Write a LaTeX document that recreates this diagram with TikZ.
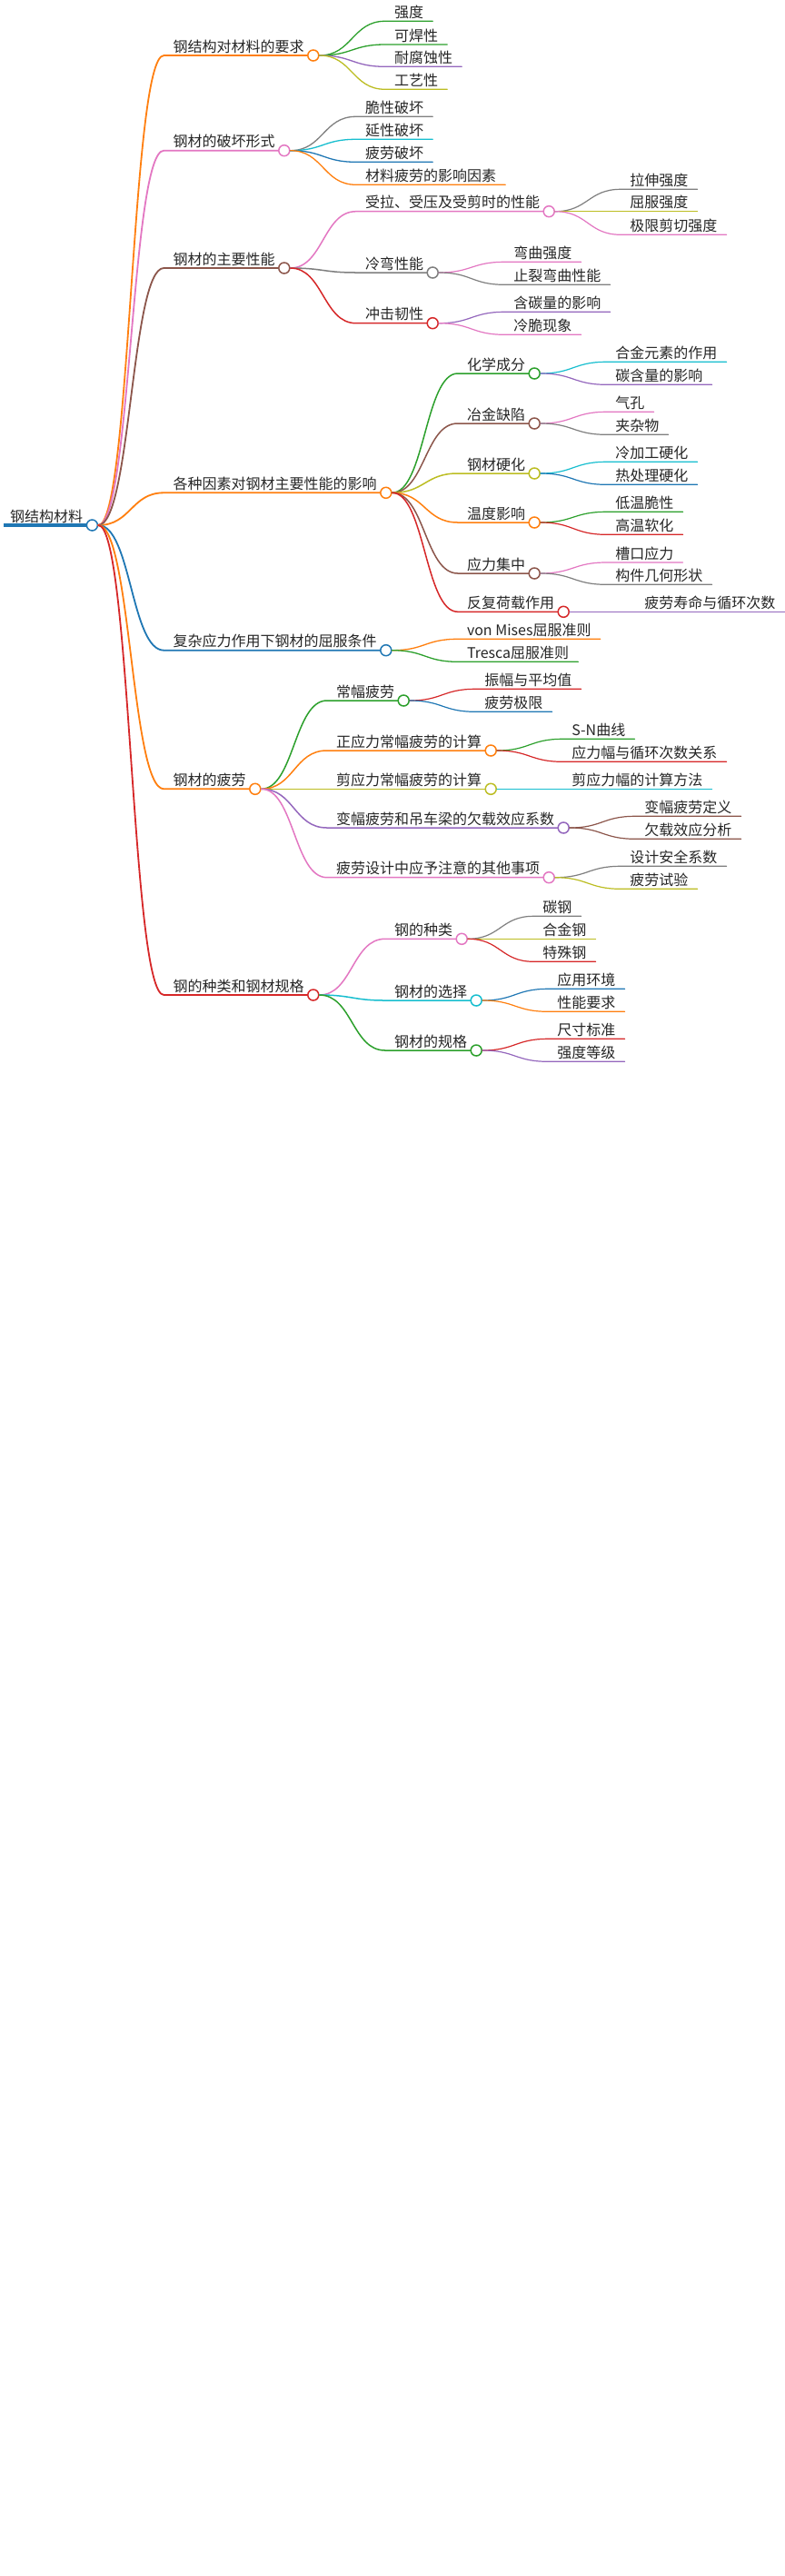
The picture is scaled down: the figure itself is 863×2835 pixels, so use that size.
\documentclass[tikz,border=0pt]{standalone}
\usepackage{fontspec}
\setmainfont{Noto Sans CJK SC}
\usetikzlibrary{calc}
\definecolor{cblue}{HTML}{1F77B4}
\definecolor{corange}{HTML}{FF7F0E}
\definecolor{cgreen}{HTML}{2CA02C}
\definecolor{cred}{HTML}{D62728}
\definecolor{cpurple}{HTML}{9467BD}
\definecolor{cbrown}{HTML}{8C564B}
\definecolor{cpink}{HTML}{E377C2}
\definecolor{cgray}{HTML}{7F7F7F}
\definecolor{colive}{HTML}{BCBD22}
\definecolor{ccyan}{HTML}{17BECF}
\tikzset{
  lbl/.style={font=\fontsize{16}{16}\selectfont, text=black!85, inner sep=0pt, anchor=base west},
  circ/.style={circle, fill=white, minimum size=12pt, inner sep=0pt, line width=1.5pt},
  conn/.style={line cap=round}
}
% #1 name, #2 parent, #3 y, #4 colour, #5 width, #6 text
\newcommand\mmn[6]{%
  \path (c#2.center) ++(89,0) coordinate (x#1);
  \coordinate (y#1) at (0,#3);
  \coordinate (s#1) at ($(x#1 |- y#1)+(-10,0)$);
  \node[lbl] (#1) at ($(x#1 |- y#1)+(0,-4)$) {#6};
  \coordinate (e#1) at ($(#1.east |- y#1)+(10,0)$);
  \draw[conn, draw=#4, line width=#5] (c#2.east) .. controls +(36,0) and +(-36,0) .. (s#1) -- (e#1);
}
\newcommand\mmi[6]{\mmn{#1}{#2}{#3}{#4}{#5}{#6}\node[circ, draw=#4] (c#1) at (e#1) {};}
\begin{document}
\begin{tikzpicture}[x=1pt,y=-1pt]
\useasboundingbox[fill=white] (0,0) rectangle (863,2835);
% root
\node[lbl] (R) at (11,574) {钢结构材料};
\coordinate (sR) at (4,578);
\coordinate (eR) at ($(R.east |- sR)+(10,0)$);
\draw[cblue, line width=3.5pt] (sR) -- (eR);
\node[circ, draw=cblue] (cR) at (eR) {};
% A
\mmi{A}{R}{61}{corange}{1.8pt}{钢结构对材料的要求}
\mmn{Aa}{A}{23.3}{cgreen}{1.3pt}{强度}
\mmn{Ab}{A}{49}{cgreen}{1.3pt}{可焊性}
\mmn{Ac}{A}{73.3}{cpurple}{1.3pt}{耐腐蚀性}
\mmn{Ad}{A}{98.3}{colive}{1.3pt}{工艺性}
% B
\mmi{B}{R}{165.7}{cpink}{1.8pt}{钢材的破坏形式}
\mmn{Ba}{B}{128.3}{cgray}{1.3pt}{脆性破坏}
\mmn{Bb}{B}{153.3}{ccyan}{1.3pt}{延性破坏}
\mmn{Bc}{B}{178.3}{cblue}{1.3pt}{疲劳破坏}
\mmn{Bd}{B}{203.3}{corange}{1.3pt}{材料疲劳的影响因素}
% C
\mmi{C}{R}{295}{cbrown}{1.8pt}{钢材的主要性能}
\mmi{Ca}{C}{232.7}{cpink}{1.5pt}{受拉、受压及受剪时的性能}
\mmn{Caa}{Ca}{208.3}{cgray}{1.2pt}{拉伸强度}
\mmn{Cab}{Ca}{232.7}{colive}{1.2pt}{屈服强度}
\mmn{Cac}{Ca}{258.3}{cpink}{1.2pt}{极限剪切强度}
\mmi{Cb}{C}{300}{cgray}{1.5pt}{冷弯性能}
\mmn{Cba}{Cb}{288.3}{cpink}{1.2pt}{弯曲强度}
\mmn{Cbb}{Cb}{313.3}{cgray}{1.2pt}{止裂弯曲性能}
\mmi{Cc}{C}{355.7}{cred}{1.5pt}{冲击韧性}
\mmn{Cca}{Cc}{343.3}{cpurple}{1.2pt}{含碳量的影响}
\mmn{Ccb}{Cc}{368.3}{cpink}{1.2pt}{冷脆现象}
% D
\mmi{D}{R}{542.3}{corange}{1.8pt}{各种因素对钢材主要性能的影响}
\mmi{Da}{D}{411}{cgreen}{1.5pt}{化学成分}
\mmn{Daa}{Da}{398.3}{ccyan}{1.2pt}{合金元素的作用}
\mmn{Dab}{Da}{423.3}{cpurple}{1.2pt}{碳含量的影响}
\mmi{Db}{D}{466}{cbrown}{1.5pt}{冶金缺陷}
\mmn{Dba}{Db}{453.3}{cpink}{1.2pt}{气孔}
\mmn{Dbb}{Db}{478.3}{cgray}{1.2pt}{夹杂物}
\mmi{Dc}{D}{521}{colive}{1.5pt}{钢材硬化}
\mmn{Dca}{Dc}{508.3}{ccyan}{1.2pt}{冷加工硬化}
\mmn{Dcb}{Dc}{533.3}{cblue}{1.2pt}{热处理硬化}
\mmi{Dd}{D}{575}{corange}{1.5pt}{温度影响}
\mmn{Dda}{Dd}{563.3}{cgreen}{1.2pt}{低温脆性}
\mmn{Ddb}{Dd}{588.3}{cred}{1.2pt}{高温软化}
\mmi{De}{D}{631}{cbrown}{1.5pt}{应力集中}
\mmn{Dea}{De}{619}{cpink}{1.2pt}{槽口应力}
\mmn{Deb}{De}{643.3}{cgray}{1.2pt}{构件几何形状}
\mmi{Df}{D}{673.3}{cred}{1.5pt}{反复荷载作用}
\mmn{Dfa}{Df}{673.3}{cpurple}{1.2pt}{疲劳寿命与循环次数}
% E
\mmi{E}{R}{715.7}{cblue}{1.8pt}{复杂应力作用下钢材的屈服条件}
\mmn{Ea}{E}{703.3}{corange}{1.3pt}{von Mises屈服准则}
\mmn{Eb}{E}{728.3}{cgreen}{1.3pt}{Tresca屈服准则}
% F
\mmi{F}{R}{868.3}{corange}{1.8pt}{钢材的疲劳}
\mmi{Fa}{F}{771}{cgreen}{1.5pt}{常幅疲劳}
\mmn{Faa}{Fa}{758.3}{cred}{1.2pt}{振幅与平均值}
\mmn{Fab}{Fa}{783.3}{cblue}{1.2pt}{疲劳极限}
\mmi{Fb}{F}{826}{corange}{1.5pt}{正应力常幅疲劳的计算}
\mmn{Fba}{Fb}{813.3}{cgreen}{1.2pt}{S-N曲线}
\mmn{Fbb}{Fb}{838.3}{cred}{1.2pt}{应力幅与循环次数关系}
\mmi{Fc}{F}{868.3}{colive}{1.5pt}{剪应力常幅疲劳的计算}
\mmn{Fca}{Fc}{868.3}{ccyan}{1.2pt}{剪应力幅的计算方法}
\mmi{Fd}{F}{911}{cpurple}{1.5pt}{变幅疲劳和吊车梁的欠载效应系数}
\mmn{Fda}{Fd}{898.3}{cbrown}{1.2pt}{变幅疲劳定义}
\mmn{Fdb}{Fd}{923.3}{cbrown}{1.2pt}{欠载效应分析}
\mmi{Fe}{F}{965.7}{cpink}{1.5pt}{疲劳设计中应予注意的其他事项}
\mmn{Fea}{Fe}{953.3}{cgray}{1.2pt}{设计安全系数}
\mmn{Feb}{Fe}{978.3}{colive}{1.2pt}{疲劳试验}
% G
\mmi{G}{R}{1095}{cred}{1.8pt}{钢的种类和钢材规格}
\mmi{Ga}{G}{1033.3}{cpink}{1.5pt}{钢的种类}
\mmn{Gaa}{Ga}{1008.3}{cgray}{1.2pt}{碳钢}
\mmn{Gab}{Ga}{1033.3}{colive}{1.2pt}{合金钢}
\mmn{Gac}{Ga}{1058.3}{cred}{1.2pt}{特殊钢}
\mmi{Gb}{G}{1101}{ccyan}{1.5pt}{钢材的选择}
\mmn{Gba}{Gb}{1088.3}{cblue}{1.2pt}{应用环境}
\mmn{Gbb}{Gb}{1113.3}{corange}{1.2pt}{性能要求}
\mmi{Gc}{G}{1156}{cgreen}{1.5pt}{钢材的规格}
\mmn{Gca}{Gc}{1143.3}{cred}{1.2pt}{尺寸标准}
\mmn{Gcb}{Gc}{1168.3}{cpurple}{1.2pt}{强度等级}
\end{tikzpicture}
\end{document}
